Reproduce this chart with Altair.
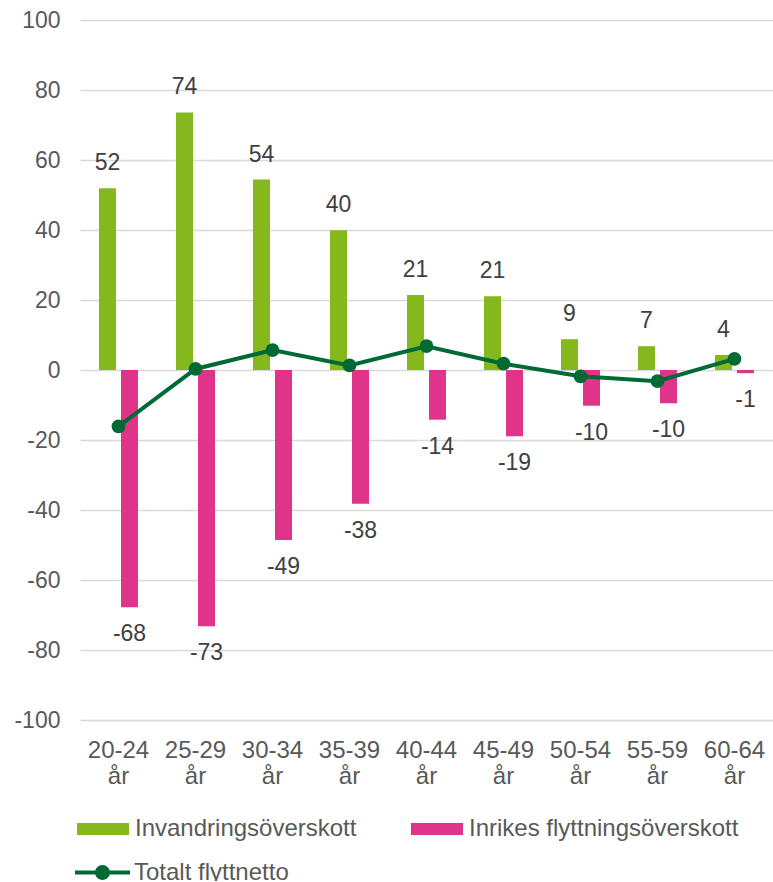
import altair as alt
import pandas as pd

ages = ["20-24 år", "25-29 år", "30-34 år", "35-39 år", "40-44 år",
        "45-49 år", "50-54 år", "55-59 år", "60-64 år"]
invandring = [51.9, 73.6, 54.4, 39.9, 21.4, 21.1, 8.8, 6.8, 4.3]
inrikes = [-67.8, -73.2, -48.6, -38.2, -14.2, -18.9, -10.2, -9.5, -0.9]
totalt = [-16.1, 0.3, 5.7, 1.3, 6.8, 1.8, -1.8, -3.2, 3.2]
inv_labels = ["52", "74", "54", "40", "21", "21", "9", "7", "4"]
inr_labels = ["-68", "-73", "-49", "-38", "-14", "-19", "-10", "-10", "-1"]

S_INV = "Invandringsöverskott"
S_INR = "Inrikes flyttningsöverskott"
S_TOT = "Totalt flyttnetto"

GREEN = "#85B81C"
PINK = "#E0338A"
DARK = "#006A35"
FONT = "Liberation Sans"
GRAY = "#595959"
FS = 23
FS_L = 24

rows = []
for a, v, l in zip(ages, invandring, inv_labels):
    rows.append({"Age": a, "Series": S_INV, "Value": v, "Label": l})
for a, v, l in zip(ages, inrikes, inr_labels):
    rows.append({"Age": a, "Series": S_INR, "Value": v, "Label": l})
bars_df = pd.DataFrame(rows)
tot_df = pd.DataFrame({"Age": ages, "Value": totalt, "Series": [S_TOT] * len(ages)})

x_enc = alt.X("Age:N", sort=ages, scale=alt.Scale(paddingInner=0, paddingOuter=0),
              axis=alt.Axis(title=None, labelExpr="split(datum.label, ' ')", labelAngle=0,
                            domain=False, ticks=False, grid=False, labelFontSize=FS_L,
                            labelColor=GRAY, labelFont=FONT, labelPadding=18,
                            labelLineHeight=26, labelBaseline="top"))
y_scale = alt.Scale(domain=[-100, 100], nice=False)
y_axis = alt.Axis(title=None, values=list(range(-100, 101, 20)), domain=False, ticks=False,
                  grid=True, gridColor="#D9D9D9", gridWidth=1.5, labelFontSize=FS,
                  labelColor=GRAY, labelFont=FONT, labelPadding=20,
                  labelExpr="datum.value + ''")
xoff = alt.XOffset("Series:N", sort=[S_INV, S_INR],
                   scale=alt.Scale(domain=[S_INV, S_INR], paddingInner=0, paddingOuter=0.75))

bar_sym = "M-1,-0.23H1V0.23H-1Z"
line_sym = ("M-1,-0.075H1V0.075H-1Z "
            "M-0.27,0A0.27,0.27,0,1,1,0.27,0A0.27,0.27,0,1,1,-0.27,0Z")

bars = alt.Chart(bars_df).mark_bar(size=17).encode(
    x=x_enc,
    xOffset=xoff,
    y=alt.Y("Value:Q", scale=y_scale, axis=y_axis),
    color=alt.Color("Series:N", sort=[S_INV, S_INR],
                    scale=alt.Scale(domain=[S_INV, S_INR], range=[GREEN, PINK]),
                    legend=alt.Legend(title=None, orient="none", legendX=-3, legendY=783,
                                      direction="horizontal", columns=2, columnPadding=54,
                                      symbolType=bar_sym, symbolSize=2704,
                                      symbolStrokeWidth=0, labelFontSize=FS_L,
                                      labelColor=GRAY, labelFont=FONT, labelOffset=6,
                                      labelLimit=500)),
)

txt_pos = alt.Chart(bars_df).transform_filter("datum.Value >= 0").mark_text(
    baseline="middle", dy=-25, fontSize=FS, font=FONT, color="#404040"
).encode(x=alt.X("Age:N", sort=ages), xOffset=xoff, y=alt.Y("Value:Q"), text="Label:N")

txt_neg = alt.Chart(bars_df).transform_filter("datum.Value < 0").mark_text(
    baseline="middle", dy=27, fontSize=FS, font=FONT, color="#404040"
).encode(x=alt.X("Age:N", sort=ages), xOffset=xoff, y=alt.Y("Value:Q"), text="Label:N")

line = alt.Chart(tot_df).mark_line(strokeWidth=4).encode(
    x=alt.X("Age:N", sort=ages),
    y=alt.Y("Value:Q"),
    stroke=alt.Stroke("Series:N",
                      scale=alt.Scale(domain=[S_TOT], range=[DARK]),
                      legend=alt.Legend(title=None, orient="none", legendX=-5, legendY=825,
                                        symbolType=line_sym, symbolSize=3025,
                                        symbolFillColor=DARK, symbolStrokeWidth=0,
                                        labelFontSize=FS_L, labelColor=GRAY, labelFont=FONT,
                                        labelOffset=4, labelLimit=500)),
)

pts = alt.Chart(tot_df).mark_point(filled=True, size=190, opacity=1, color=DARK).encode(
    x=alt.X("Age:N", sort=ages),
    y=alt.Y("Value:Q"),
)

chart = alt.layer(bars, txt_pos, txt_neg, line, pts).properties(
    width=693, height=700,
    autosize=alt.AutoSizeParams(type="none"),
    padding={"left": 80, "top": 20, "right": 0, "bottom": 161},
).configure_view(stroke=None)

chart.save("out.html", embed_options={"renderer": "svg", "actions": False})
